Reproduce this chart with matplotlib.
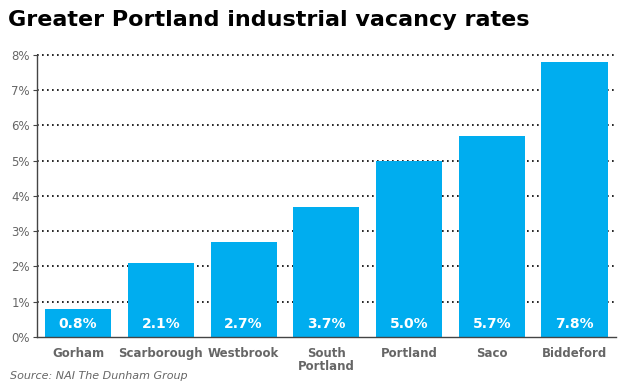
import matplotlib.pyplot as plt
import matplotlib.ticker as mticker

# ── Data ───────────────────────────────────────────────────────────────────
towns = ['Gorham', 'Scarborough', 'Westbrook', 'South\nPortland',
         'Portland', 'Saco', 'Biddeford']
vacancy = [0.8, 2.1, 2.7, 3.7, 5.0, 5.7, 7.8]
y_ticks = [0, 1, 2, 3, 4, 5, 6, 7, 8]

BAR_COLOR = '#00adef'
GRAY = '#666666'

plt.rcParams['font.family'] = ['DejaVu Sans']

fig = plt.figure(figsize=(6.24, 3.90), dpi=100)
ax = fig.add_axes([0.059, 0.136, 0.928, 0.723])

x = range(len(towns))
ax.bar(x, vacancy, width=0.8, color=BAR_COLOR, zorder=3)

for xi, v in zip(x, vacancy):
    ax.text(xi, 0.38, f'{v:.1f}%', ha='center', va='center',
            color='white', fontsize=10, fontweight='bold', zorder=4)

ax.set_xlim(-0.5, len(towns) - 0.5)
ax.set_ylim(0, 8)
ax.set_yticks(y_ticks)
ax.yaxis.set_major_formatter(mticker.FuncFormatter(lambda v, _: f'{v:.0f}%'))
ax.set_xticks(list(x))
ax.set_xticklabels(towns, fontsize=8.5, fontweight='bold', color=GRAY,
                   linespacing=1.05)

ax.tick_params(axis='y', labelsize=8.5, labelcolor=GRAY, length=3, width=0.8,
               color='#444444', pad=2)
ax.tick_params(axis='x', length=0, pad=7)

ax.grid(axis='y', linestyle=(0, (1, 2)), color='black', linewidth=1.2, zorder=1)
grid_lines = ax.yaxis.get_gridlines()
grid_lines[0].set_visible(False)
for gl in grid_lines:
    gl.set_clip_on(False)

for side in ['top', 'right']:
    ax.spines[side].set_visible(False)
for side in ['left', 'bottom']:
    ax.spines[side].set_color('#444444')
    ax.spines[side].set_linewidth(1.0)
    ax.spines[side].set_zorder(5)

fig.text(0.013, 0.948, 'Greater Portland industrial vacancy rates',
         fontsize=16, fontweight='bold', color='black', va='center')
fig.text(0.016, 0.035, 'Source: NAI The Dunham Group', fontsize=8,
         style='italic', color=GRAY, va='center')

fig.savefig('out.png', dpi=100)
